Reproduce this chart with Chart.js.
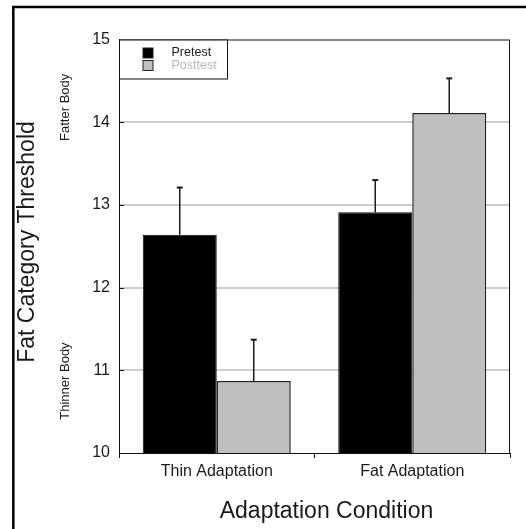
<!DOCTYPE html>
<html>
<head>
<meta charset="utf-8">
<script src="https://cdn.jsdelivr.net/npm/chart.js@4.4.1/dist/chart.umd.min.js"></script>
<style>
  html, body { margin: 0; padding: 0; background: #fff; }
  canvas { display: block; }
</style>
</head>
<body>
<canvas id="thresholdChart" width="526" height="529"></canvas>
<script>
// data
const categories = ['Thin Adaptation', 'Fat Adaptation'];
const seriesNames = ['Pretest', 'Posttest'];
const pretestMeans = [12.64, 12.91];
const pretestErrors = [0.57, 0.39];
const posttestMeans = [10.87, 14.11];
const posttestErrors = [0.50, 0.42];
const yTicks = [10, 11, 12, 13, 14, 15];

const FONT = '"Liberation Sans", Arial, Helvetica, sans-serif';
const ink = '#1a1a1a';

// upward-only error bars with a small cap
const errorBars = {
  id: 'errorBars',
  afterDatasetsDraw(chart) {
    const ctx = chart.ctx;
    const y = chart.scales.y;
    ctx.save();
    ctx.strokeStyle = ink;
    chart.data.datasets.forEach((ds, i) => {
      chart.getDatasetMeta(i).data.forEach((bar, j) => {
        const top = y.getPixelForValue(ds.data[j] + ds.errors[j]);
        ctx.lineWidth = 1.5;
        ctx.beginPath();
        ctx.moveTo(bar.x, bar.y);
        ctx.lineTo(bar.x, top);
        ctx.stroke();
        ctx.lineWidth = 2;
        ctx.beginPath();
        ctx.moveTo(bar.x - 3, top);
        ctx.lineTo(bar.x + 3, top);
        ctx.stroke();
      });
    });
    ctx.restore();
  }
};

// plot box, inner ticks, legend, titles and page frame
const decorations = {
  id: 'decorations',
  beforeDraw(chart) {
    const ctx = chart.ctx;
    ctx.save();
    ctx.fillStyle = '#fff';
    ctx.fillRect(0, 0, chart.width, chart.height);
    ctx.restore();
  },
  afterDraw(chart) {
    const ctx = chart.ctx;
    const ca = chart.chartArea;
    const y = chart.scales.y;
    ctx.save();

    // outer frame (top and left only)
    ctx.strokeStyle = '#000';
    ctx.lineWidth = 2.5;
    ctx.beginPath();
    ctx.moveTo(chart.width, 7);
    ctx.lineTo(13.3, 7);
    ctx.lineTo(13.3, chart.height);
    ctx.stroke();

    // plot box
    ctx.lineWidth = 1;
    ctx.strokeStyle = '#111';
    ctx.strokeRect(ca.left + 0.5, ca.top + 0.5, ca.right - ca.left - 1, ca.bottom - ca.top);

    // inward y ticks
    yTicks.slice(1, -1).forEach(v => {
      const py = Math.round(y.getPixelForValue(v)) + 0.5;
      ctx.beginPath();
      ctx.moveTo(ca.left, py);
      ctx.lineTo(ca.left + 5, py);
      ctx.stroke();
    });

    // legend box
    const lx = ca.left + 0.5, ly = ca.top + 0.5;
    ctx.fillStyle = '#fff';
    ctx.fillRect(lx, ly, 108, 39);
    ctx.strokeStyle = '#111';
    ctx.strokeRect(lx, ly, 108, 39);
    const textColors = [ink, '#b8b8b8'];
    chart.data.datasets.forEach((ds, i) => {
      const sy = ly + 8 + i * 12.5;
      ctx.fillStyle = ds.backgroundColor;
      ctx.fillRect(lx + 23.5, sy, 10, 10);
      ctx.strokeStyle = '#222';
      ctx.strokeRect(lx + 23.5, sy, 10, 10);
      ctx.fillStyle = textColors[i];
      ctx.font = '12.5px ' + FONT;
      ctx.textAlign = 'left';
      ctx.textBaseline = 'middle';
      ctx.fillText(ds.label, lx + 52, sy + 5);
    });

    // axis titles
    ctx.fillStyle = ink;
    ctx.font = '23px ' + FONT;
    ctx.textAlign = 'center';
    ctx.textBaseline = 'middle';
    ctx.fillText('Adaptation Condition', 326.5, 512);
    ctx.save();
    ctx.translate(28, 242);
    ctx.rotate(-Math.PI / 2);
    ctx.fillText('Fat Category Threshold', 0, 0);
    ctx.restore();

    // direction hints beside the y axis
    ctx.font = '13px ' + FONT;
    [['Fatter Body', 14.18], ['Thinner Body', 10.87]].forEach(([txt, v]) => {
      ctx.save();
      ctx.translate(65, y.getPixelForValue(v));
      ctx.rotate(-Math.PI / 2);
      ctx.fillText(txt, 0, 0);
      ctx.restore();
    });

    ctx.restore();
  }
};

new Chart(document.getElementById('thresholdChart'), {
  type: 'bar',
  data: {
    labels: categories,
    datasets: [
      {
        label: seriesNames[0],
        data: pretestMeans,
        errors: pretestErrors,
        backgroundColor: '#000000',
        borderColor: '#111',
        borderWidth: 1
      },
      {
        label: seriesNames[1],
        data: posttestMeans,
        errors: posttestErrors,
        backgroundColor: '#bfbfbf',
        borderColor: '#222',
        borderWidth: 1.5
      }
    ]
  },
  options: {
    responsive: false,
    animation: false,
    devicePixelRatio: 1,
    layout: { padding: { top: 39.5, right: 16, left: 0, bottom: 0 } },
    datasets: { bar: { barPercentage: 1, categoryPercentage: 0.757 } },
    plugins: {
      legend: { display: false },
      tooltip: { enabled: false }
    },
    scales: {
      x: {
        grid: {
          drawOnChartArea: false,
          drawTicks: true,
          tickLength: 5,
          color: '#111'
        },
        border: { color: '#111', width: 1 },
        ticks: {
          color: ink,
          font: { family: FONT, size: 16 },
          padding: 4,
          maxRotation: 0
        },
        afterFit(scale) { scale.height = 76; }
      },
      y: {
        min: yTicks[0],
        max: yTicks[yTicks.length - 1],
        afterBuildTicks(scale) { scale.ticks = yTicks.map(v => ({ value: v })); },
        grid: {
          drawTicks: false,
          lineWidth: 2,
          color: ctx => (ctx.tick && (ctx.tick.value === yTicks[0] || ctx.tick.value === yTicks[yTicks.length - 1])) ? 'rgba(0,0,0,0)' : '#cdcdcd'
        },
        border: { color: '#111', width: 1 },
        ticks: {
          color: ink,
          font: { family: FONT, size: 16 },
          padding: 9
        },
        afterFit(scale) { scale.width = 119; }
      }
    }
  },
  plugins: [errorBars, decorations]
});
</script>
</body>
</html>
